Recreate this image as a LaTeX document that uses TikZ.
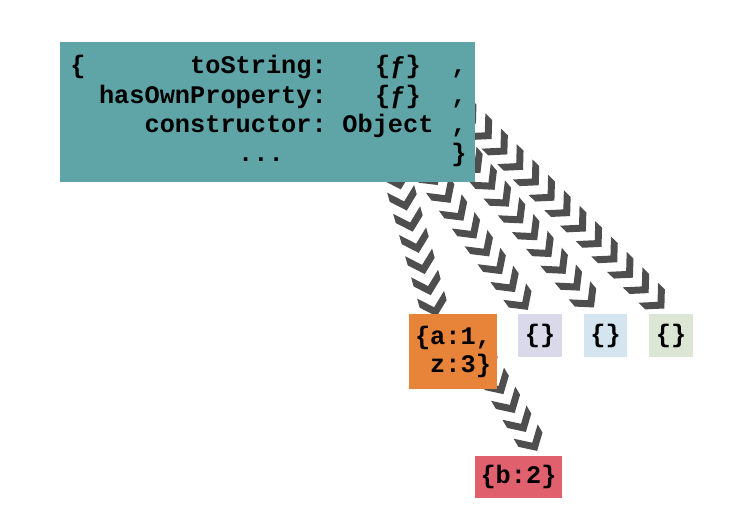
\documentclass[tikz,border=0pt]{standalone}
\usepackage{fontspec}
\newfontfamily\codefam{Liberation Mono}
\usetikzlibrary{decorations.markings}
\definecolor{teal1}{HTML}{5FA4A6}
\definecolor{orng}{HTML}{E8833A}
\definecolor{lav}{HTML}{D9D9EA}
\definecolor{lblue}{HTML}{D4E5EF}
\definecolor{lgreen}{HTML}{DCE6D5}
\definecolor{rd}{HTML}{E0606E}
\definecolor{chevc}{HTML}{4E4E4E}
\pgfdeclarelayer{bg}
\pgfsetlayers{bg,main}
\begin{document}
\begin{tikzpicture}[x=1pt,y=-1pt,
  code/.style={font=\codefam\bfseries\fontsize{25.3}{28}\selectfont, inner sep=0pt, text=black},
  box/.style={draw=none, inner sep=0pt, code},
  chevchain/.style={decorate, decoration={markings,
     mark=between positions 0 and 1 step 22pt with {
       \fill[chevc] (0pt,0pt) -- (-13pt,14pt) -- (-22.5pt,14pt) -- (-9.5pt,0pt) -- (-22.5pt,-14pt) -- (-13pt,-14pt) -- cycle;}}}
]
\useasboundingbox (0,0) rectangle (746,516);

\path (267.5,112) coordinate (objc);
\path (453,351.5) coordinate (oc);
\path (540,335.5) coordinate (lc);
\path (605.5,335.5) coordinate (bc);
\path (671,335.5) coordinate (gc);
\path (518.5,477) coordinate (rc);

\node[box, minimum width=415pt, minimum height=140pt, fill=teal1] (obj) at (objc) {};
\node[box, minimum width=88pt, minimum height=75pt, fill=orng] (o) at (oc) {};
\node[box, minimum width=44pt, minimum height=43pt, fill=lav] (l) at (lc) {};
\node[box, minimum width=43pt, minimum height=43pt, fill=lblue] (b) at (bc) {};
\node[box, minimum width=44pt, minimum height=43pt, fill=lgreen] (g) at (gc) {};
\node[box, minimum width=87pt, minimum height=42pt, fill=rd] (r) at (rc) {};

% chevron connectors behind the boxes
\begin{pgfonlayer}{bg}
\fill[white] (0,0) rectangle (746,516);
\draw[chevchain] ([xshift=335pt,yshift=14pt]obj.south west) -- ([xshift=28pt,yshift=-3pt]o.north west);
\draw[chevchain] ([xshift=365pt,yshift=15pt]obj.south west) -- ([xshift=15pt,yshift=-3pt]l.north west);
\draw[chevchain] ([xshift=-9pt,yshift=26pt]obj.south east) -- ([xshift=18pt,yshift=-3pt]b.north west);
\draw[chevchain] ([xshift=-15pt,yshift=74pt]obj.south east) -- ([xshift=24pt,yshift=-3pt]g.north west);
\draw[chevchain] ([xshift=-5pt,yshift=14pt]o.south east) -- ([xshift=67pt,yshift=-3pt]r.north west);
\end{pgfonlayer}

% texts of the prototype object
\node[code, anchor=base] (t1) at (78,74) {\{};
\node[code, anchor=base east] (t2) at (327,74) {toString:};
\node[code, anchor=base] (t3) at (398,74) {\{ƒ\}};
\node[code, anchor=base] (t4) at (459,74) {,};
\node[code, anchor=base east] (t5) at (327,103) {hasOwnProperty:};
\node[code, anchor=base] (t6) at (398,103) {\{ƒ\}};
\node[code, anchor=base] (t7) at (459,103) {,};
\node[code, anchor=base east] (t8) at (327,132) {constructor:};
\node[code, anchor=base] (t9) at (388,132) {Object};
\node[code, anchor=base] (t10) at (459,132) {,};
\node[code, anchor=base] (t11) at (261,161) {...};
\node[code, anchor=base] (t12) at (459,161) {\}};

% texts of the child objects
\node[code, align=left] (to) at (oc) {\{a:1,\\\ z:3\}};
\node[code] (tl) at (lc) {\{\}};
\node[code] (tb) at (bc) {\{\}};
\node[code] (tg) at (gc) {\{\}};
\node[code] (tr) at (rc) {\{b:2\}};
\end{tikzpicture}
\end{document}
